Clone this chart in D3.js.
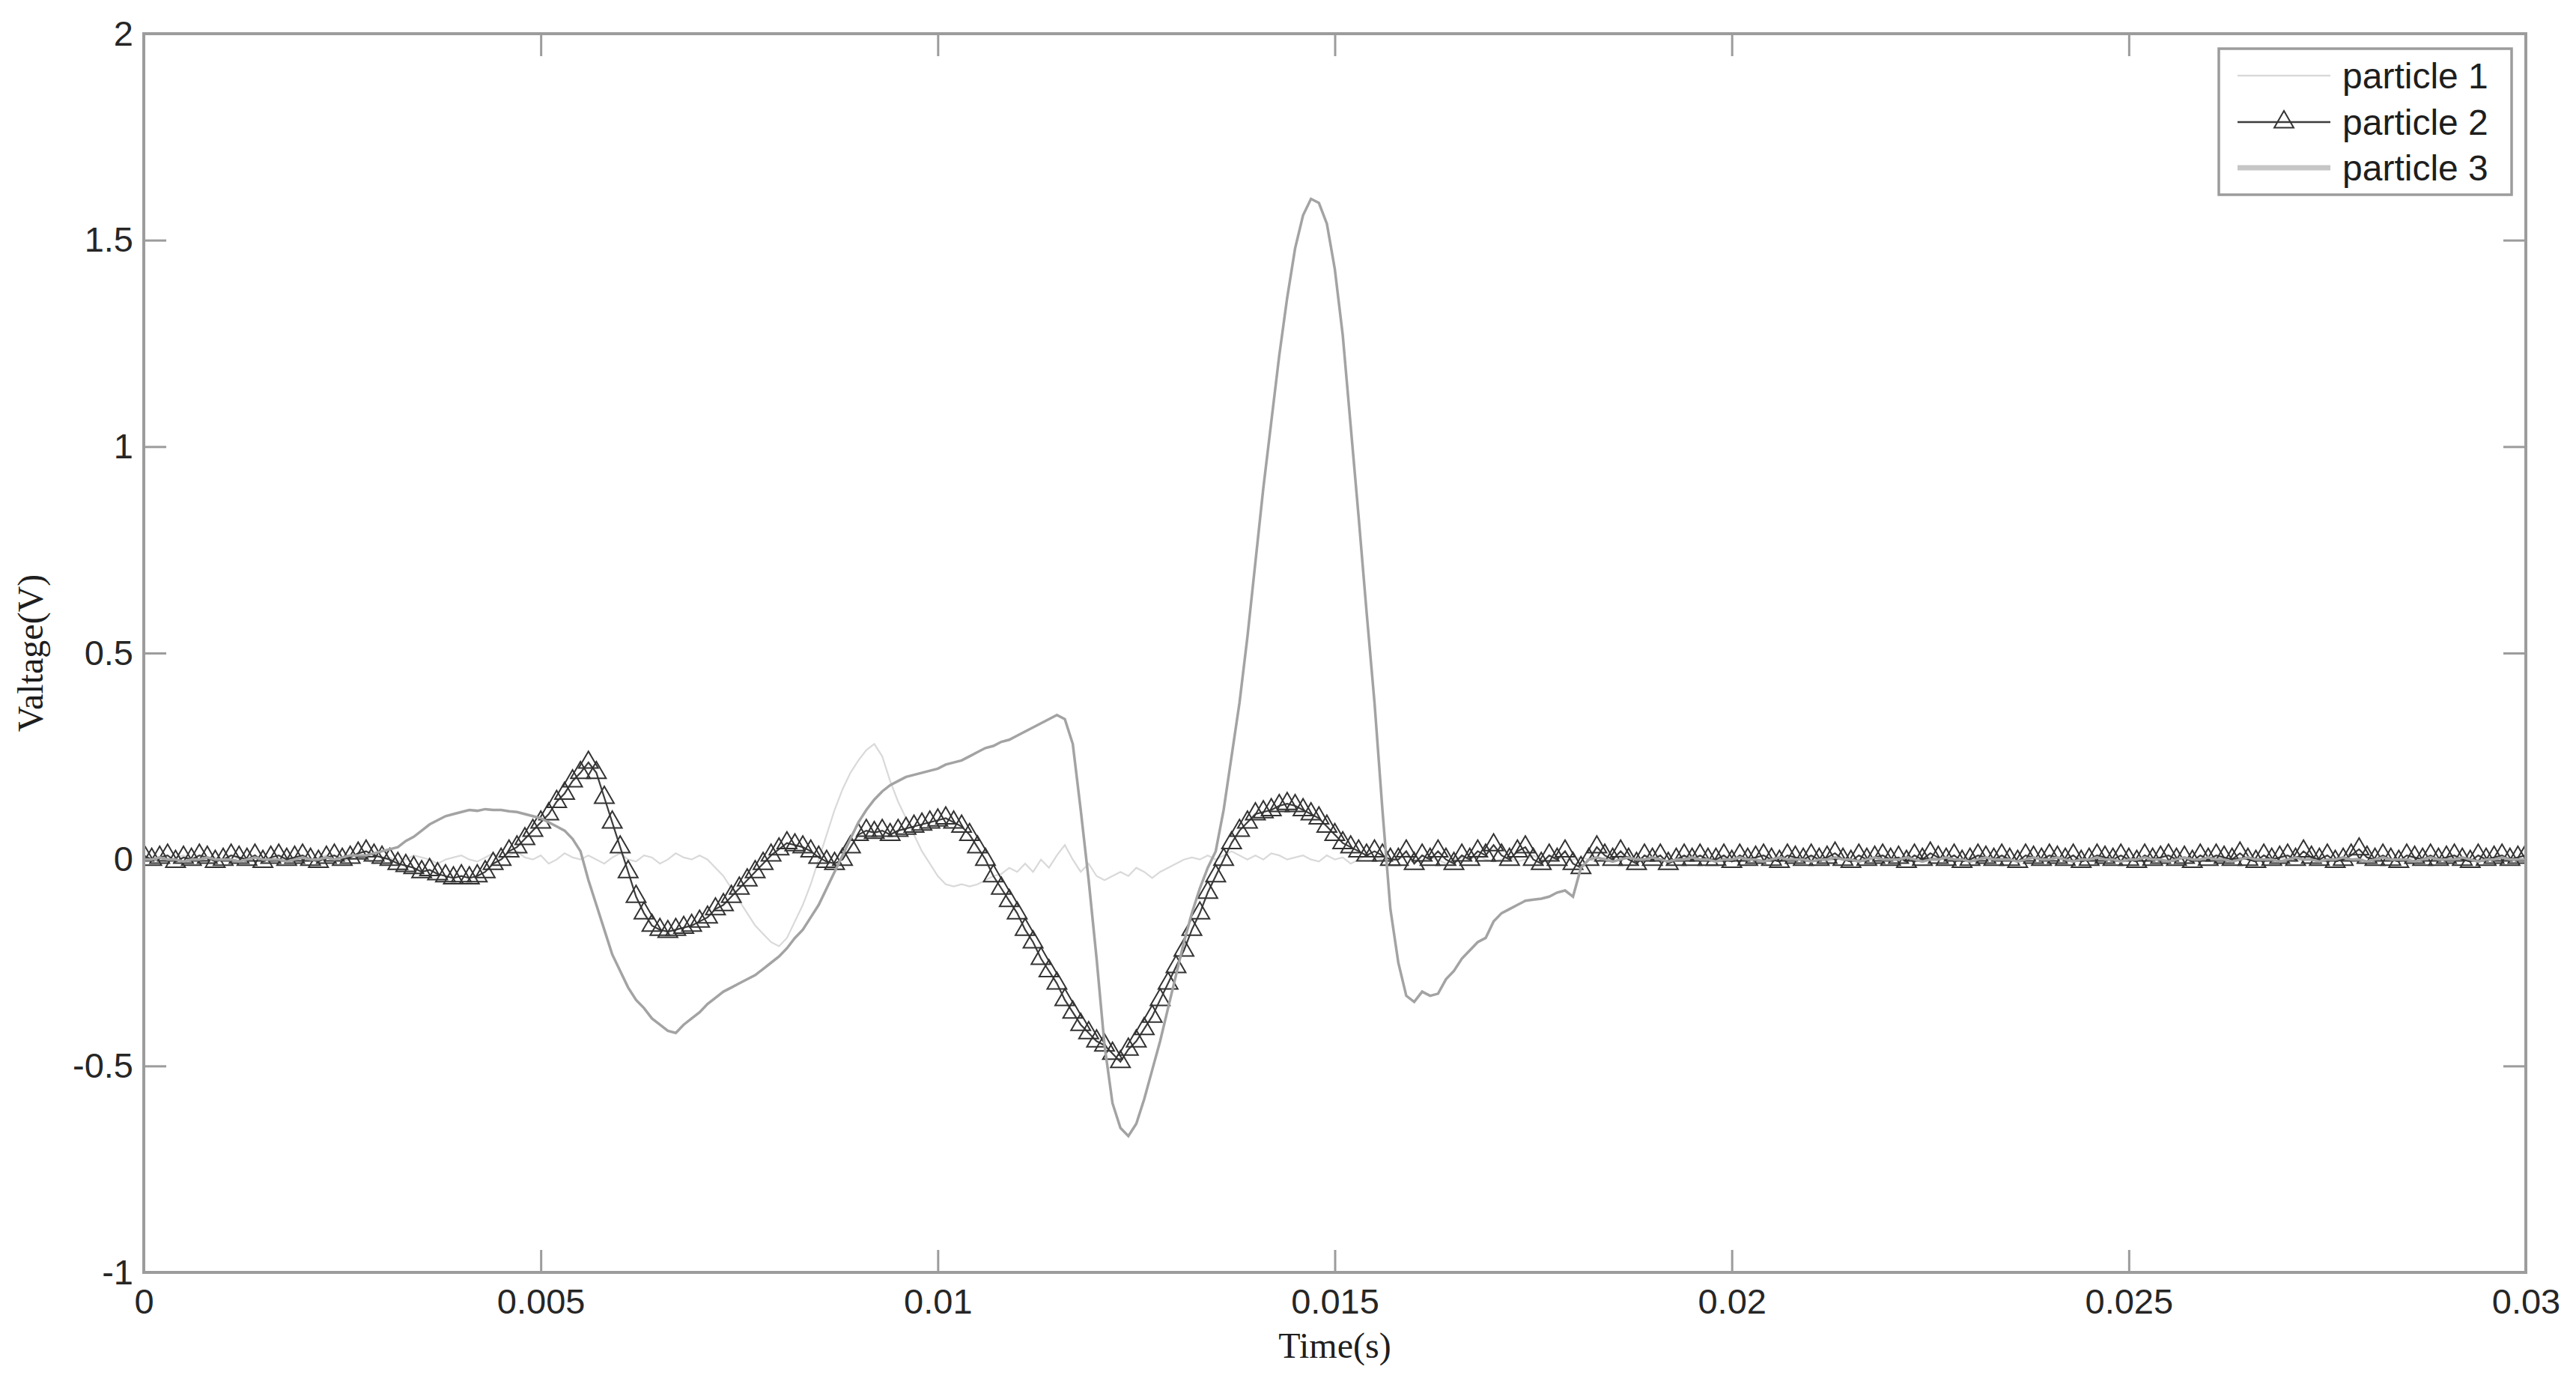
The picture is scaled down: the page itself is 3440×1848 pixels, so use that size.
<!DOCTYPE html>
<html><head><meta charset="utf-8">
<script src="https://cdn.jsdelivr.net/npm/d3@7"></script>
<style>body{margin:0;background:#fff;} svg{display:block}</style>
</head><body>
<svg id="c" width="3440" height="1848"></svg>
<script>
const sampleStep = 0.0001;
const xTicks = [0,0.005,0.01,0.015,0.02,0.025,0.03];
const xTickLabels = ["0","0.005","0.01","0.015","0.02","0.025","0.03"];
const yTicks = [-1,-0.5,0,0.5,1,1.5,2];
const yTickLabels = ["-1","-0.5","0","0.5","1","1.5","2"];
const seriesNames = ["particle 1","particle 2","particle 3"];
const xLabel = "Time(s)";
const yLabel = "Valtage(V)";

const particle1 = [
0.00,0.005,0.00,-0.005,0.005,0.01,0.00,-0.005,0.00,0.005,
0.00,-0.005,0.005,0.00,0.01,0.00,-0.005,0.00,0.005,0.00,
-0.005,0.00,0.005,0.01,0.00,-0.005,0.00,0.005,0.00,-0.01,
0.00,0.005,-0.005,0.00,0.01,0.005,0.00,-0.01,0.00,0.005,
0.01,0.00,-0.005,0.005,0.015,0.00,0.01,0.02,0.005,0.00,
0.01,-0.01,0.00,0.015,0.005,0.00,0.01,0.00,-0.01,0.005,
0.015,0.00,-0.005,0.01,0.005,-0.01,0.00,0.015,0.005,0.00,
0.01,0.00,-0.02,-0.04,-0.07,-0.10,-0.13,-0.16,-0.18,-0.20,
-0.21,-0.19,-0.15,-0.11,-0.06,0.00,0.06,0.12,0.17,0.21,
0.24,0.265,0.28,0.25,0.19,0.14,0.10,0.06,0.02,-0.01,
-0.04,-0.06,-0.065,-0.06,-0.065,-0.06,-0.05,-0.04,-0.035,-0.02,
-0.03,-0.01,-0.03,0.00,-0.02,0.01,0.035,0.00,-0.03,-0.01,
-0.04,-0.05,-0.04,-0.03,-0.04,-0.02,-0.03,-0.045,-0.03,-0.02,
-0.01,0.00,0.005,0.00,0.01,0.00,0.01,0.02,0.01,0.00,
0.01,0.00,0.015,0.01,0.00,0.005,0.01,0.00,-0.005,0.01,
0.00,0.005,-0.01,0.00,0.01,0.005,0.00,-0.005,0.00,0.01,
0.00,-0.005,0.005,0.00,-0.01,0.00,0.005,0.00,0.01,0.00,
-0.005,0.00,0.005,-0.005,0.00,0.01,0.00,-0.005,0.005,0.00,
0.00,0.005,0.00,-0.005,0.005,0.00,0.01,0.00,-0.005,0.00,
0.005,0.00,-0.005,0.00,0.005,0.01,0.00,-0.005,0.00,0.005,
0.00,-0.005,0.005,0.00,0.00,0.005,-0.005,0.00,0.005,0.00,
0.005,0.00,-0.005,0.00,0.005,0.00,0.00,-0.005,0.005,0.00,
0.00,0.005,0.00,-0.005,0.00,0.005,0.00,0.005,-0.005,0.00,
0.005,0.00,0.00,-0.005,0.005,0.00,-0.005,0.00,0.005,0.00,
0.00,0.005,-0.005,0.00,0.005,0.00,0.00,0.005,-0.005,0.00,
0.005,0.00,-0.005,0.005,0.00,0.00,0.005,0.00,-0.005,0.00,
0.00,0.005,0.00,-0.005,0.005,0.00,0.005,-0.005,0.00,0.005,
0.00,-0.005,0.00,0.005,0.00,-0.005,0.005,0.00,0.00,0.005,
-0.005,0.00,0.005,0.00,-0.005,0.00,0.005,0.00,0.005,-0.005,
0.00,0.005,0.00,-0.005,0.00,0.005,0.00,-0.005,0.005,0.00,
0.00];

const particle2 = [
0.01,0.00,0.005,0.01,-0.005,0.005,0.00,0.01,0.005,-0.005,
0.00,0.01,0.005,0.00,0.01,-0.005,0.005,0.01,0.00,0.005,
0.01,0.00,-0.005,0.005,0.01,0.00,0.005,0.015,0.02,0.01,
0.005,0.00,-0.01,-0.015,-0.02,-0.03,-0.025,-0.035,-0.04,-0.045,
-0.04,-0.045,-0.04,-0.03,-0.01,0.00,0.02,0.03,0.05,0.07,
0.09,0.11,0.14,0.16,0.19,0.21,0.235,0.21,0.15,0.09,
0.03,-0.03,-0.09,-0.13,-0.16,-0.17,-0.175,-0.17,-0.165,-0.16,
-0.15,-0.14,-0.12,-0.11,-0.09,-0.07,-0.05,-0.03,-0.01,0.01,
0.025,0.04,0.035,0.03,0.02,0.005,-0.005,-0.01,0.00,0.03,
0.06,0.07,0.065,0.07,0.06,0.07,0.075,0.08,0.085,0.09,
0.095,0.10,0.09,0.08,0.06,0.03,0.00,-0.04,-0.07,-0.10,
-0.13,-0.17,-0.20,-0.24,-0.27,-0.30,-0.34,-0.37,-0.40,-0.42,
-0.44,-0.45,-0.47,-0.49,-0.46,-0.44,-0.41,-0.38,-0.34,-0.30,
-0.26,-0.22,-0.17,-0.13,-0.08,-0.04,0.00,0.04,0.07,0.09,
0.11,0.115,0.12,0.13,0.135,0.13,0.12,0.11,0.10,0.08,
0.06,0.04,0.03,0.02,0.01,0.02,0.01,0.00,0.00,0.02,
-0.01,0.01,0.00,0.02,0.00,-0.01,0.01,0.00,0.02,0.01,
0.035,0.01,0.00,0.02,0.03,0.00,-0.01,0.01,0.00,0.02,
-0.01,-0.02,0.00,0.03,0.01,0.00,0.02,0.00,-0.01,0.01,
0.00,0.01,-0.01,0.00,0.01,0.00,0.01,0.00,0.00,0.01,
-0.005,0.01,0.00,0.005,0.01,0.00,-0.005,0.01,0.005,0.00,
0.01,0.00,0.005,0.015,0.00,-0.005,0.01,0.00,0.005,0.01,
0.00,0.005,-0.005,0.01,0.00,0.015,0.005,0.00,0.01,-0.005,
0.00,0.01,0.005,0.00,0.01,0.00,-0.005,0.01,0.005,0.00,
0.01,0.005,0.00,0.01,-0.005,0.00,0.01,0.005,0.00,0.01,
0.00,-0.005,0.01,0.00,0.005,0.01,0.00,0.005,-0.005,0.01,
0.00,0.01,0.005,0.00,0.015,0.00,-0.005,0.01,0.00,0.005,
0.01,0.00,0.02,0.005,0.00,0.01,-0.005,0.00,0.01,0.025,
0.005,0.00,0.01,0.00,-0.005,0.01,0.005,0.00,0.01,0.00,
0.005,0.01,0.00,-0.005,0.01,0.00,0.005,0.01,0.00,0.005,
0.01];

const particle3 = [
0.00,0.00,0.005,0.00,0.00,-0.005,0.00,0.00,0.005,0.00,
0.00,0.00,-0.005,0.00,0.005,0.00,0.00,0.00,-0.005,0.00,
0.005,0.00,0.00,0.005,0.00,0.005,0.01,0.01,0.01,0.015,
0.02,0.025,0.03,0.045,0.055,0.07,0.085,0.095,0.105,0.11,
0.115,0.12,0.118,0.122,0.12,0.12,0.117,0.115,0.11,0.105,
0.10,0.09,0.08,0.07,0.05,0.02,-0.05,-0.11,-0.17,-0.23,
-0.27,-0.31,-0.34,-0.36,-0.385,-0.40,-0.415,-0.42,-0.40,-0.385,
-0.37,-0.35,-0.335,-0.32,-0.31,-0.30,-0.29,-0.28,-0.265,-0.25,
-0.235,-0.215,-0.19,-0.17,-0.14,-0.11,-0.07,-0.03,0.01,0.05,
0.09,0.12,0.145,0.165,0.18,0.19,0.20,0.205,0.21,0.215,
0.22,0.23,0.235,0.24,0.25,0.26,0.27,0.275,0.285,0.29,
0.30,0.31,0.32,0.33,0.34,0.35,0.34,0.28,0.12,-0.05,
-0.24,-0.45,-0.59,-0.65,-0.67,-0.64,-0.58,-0.51,-0.44,-0.36,
-0.28,-0.20,-0.13,-0.07,-0.02,0.02,0.12,0.25,0.38,0.54,
0.72,0.90,1.06,1.22,1.36,1.48,1.56,1.60,1.59,1.54,
1.43,1.27,1.05,0.83,0.60,0.38,0.12,-0.12,-0.25,-0.33,
-0.345,-0.32,-0.33,-0.325,-0.29,-0.27,-0.24,-0.22,-0.20,-0.19,
-0.15,-0.13,-0.12,-0.11,-0.10,-0.097,-0.095,-0.09,-0.08,-0.075,
-0.09,-0.02,0.00,0.005,0.00,-0.005,0.00,0.005,0.00,0.00,
0.005,0.00,-0.005,0.00,0.00,0.005,0.00,0.00,-0.005,0.00,
0.00,0.005,0.00,0.00,-0.005,0.00,0.005,0.00,0.00,0.00,
-0.005,0.00,0.00,0.005,0.00,0.00,-0.005,0.00,0.005,0.00,
0.00,0.00,0.005,0.00,-0.005,0.00,0.00,0.005,0.00,0.00,
-0.005,0.00,0.005,0.00,0.00,0.00,-0.005,0.00,0.005,0.00,
0.00,0.005,0.00,-0.005,0.00,0.00,0.005,0.00,0.00,-0.005,
0.00,0.00,0.005,0.00,0.00,-0.005,0.00,0.005,0.00,0.00,
0.005,0.00,0.00,-0.005,0.00,0.005,0.00,0.00,0.00,-0.005,
0.00,0.005,0.00,0.00,-0.005,0.00,0.00,0.005,0.00,0.00,
-0.005,0.00,0.005,0.00,0.00,0.00,-0.005,0.00,0.005,0.00,
0.00,0.00,0.005,0.00,-0.005,0.00,0.00,0.005,0.00,0.00,
0.00];

const svg = d3.select("#c");
const L = 192, R = 3373, T = 45, B = 1699;
const x = d3.scaleLinear().domain([0, 0.03]).range([L, R]);
const y = d3.scaleLinear().domain([-1, 2]).range([B, T]);
const times = particle1.map((_, i) => +(i * sampleStep).toFixed(4));

const axColor = "#9c9c9c";
const tickFont = "'Liberation Sans', Arial, sans-serif";
const serifFont = "'Liberation Serif', 'Times New Roman', serif";

svg.append("rect").attr("width", 3440).attr("height", 1848).attr("fill", "#fff");

svg.append("defs").append("clipPath").attr("id", "clip")
  .append("rect").attr("x", L).attr("y", T).attr("width", R - L).attr("height", B - T);

function styleAxis(g) {
  g.select(".domain").remove();
  g.selectAll(".tick line").attr("stroke", axColor).attr("stroke-width", 3);
  g.selectAll(".tick text").attr("fill", "#262626").style("font-family", tickFont).style("font-size", "47px");
}

svg.append("g").attr("transform", `translate(0,${B})`)
  .call(d3.axisBottom(x).tickValues(xTicks).tickFormat((d, i) => xTickLabels[i]).tickSizeInner(-30).tickSizeOuter(0).tickPadding(22))
  .call(styleAxis);
svg.append("g").attr("transform", `translate(0,${T})`)
  .call(d3.axisTop(x).tickValues(xTicks).tickFormat(() => "").tickSizeInner(-30).tickSizeOuter(0))
  .call(styleAxis);
svg.append("g").attr("transform", `translate(${L},0)`)
  .call(d3.axisLeft(y).tickValues(yTicks).tickFormat(d => yTickLabels[yTicks.indexOf(d)]).tickSizeInner(-30).tickSizeOuter(0).tickPadding(14))
  .call(styleAxis);
svg.append("g").attr("transform", `translate(${R},0)`)
  .call(d3.axisRight(y).tickValues(yTicks).tickFormat(() => "").tickSizeInner(-30).tickSizeOuter(0))
  .call(styleAxis);

const plot = svg.append("g").attr("clip-path", "url(#clip)");
const line = d3.line().x((d, i) => x(times[i])).y(d => y(d));

const styles = [
  { color: "#d9d9d9", width: 2.2 },
  { color: "#3c3c3c", width: 2.2 },
  { color: "#a3a3a3", width: 3.5 }
];
const triSym = d3.symbol().type(d3.symbolTriangle).size(290);

plot.append("path").datum(particle1).attr("d", line)
  .attr("fill", "none").attr("stroke", styles[0].color).attr("stroke-width", styles[0].width);
plot.append("path").datum(particle2).attr("d", line)
  .attr("fill", "none").attr("stroke", styles[1].color).attr("stroke-width", styles[1].width);
plot.append("g").selectAll("path").data(particle2).join("path")
  .attr("d", triSym)
  .attr("transform", (d, i) => `translate(${x(times[i])},${y(d)})`)
  .attr("fill", "none").attr("stroke", "#333").attr("stroke-width", 2);
plot.append("path").datum(particle3).attr("d", line)
  .attr("fill", "none").attr("stroke", styles[2].color).attr("stroke-width", styles[2].width);

svg.append("rect").attr("x", L).attr("y", T).attr("width", R - L).attr("height", B - T)
  .attr("fill", "none").attr("stroke", axColor).attr("stroke-width", 4);

// Legend
const lg = svg.append("g");
lg.append("rect").attr("x", 2963).attr("y", 65).attr("width", 391).attr("height", 195)
  .attr("fill", "#fff").attr("stroke", axColor).attr("stroke-width", 3.5);
const rowY = [101, 163, 224];
seriesNames.forEach((name, k) => {
  lg.append("line").attr("x1", 2988).attr("x2", 3112).attr("y1", rowY[k]).attr("y2", rowY[k])
    .attr("stroke", k === 2 ? "#c6c6c6" : styles[k].color).attr("stroke-width", k === 2 ? 7 : styles[k].width + 0.5);
  if (k === 1) {
    lg.append("path").attr("d", triSym).attr("transform", `translate(3050,${rowY[k]})`)
      .attr("fill", "none").attr("stroke", "#333").attr("stroke-width", 2);
  }
  lg.append("text").attr("x", 3128).attr("y", rowY[k]).attr("dy", "0.35em")
    .style("font-family", tickFont).style("font-size", "48px").attr("fill", "#1e1e1e").text(name);
});

// Axis labels
svg.append("text").attr("x", (L + R) / 2).attr("y", 1813).attr("text-anchor", "middle")
  .style("font-family", serifFont).style("font-size", "48px").attr("fill", "#1e1e1e").text(xLabel);
svg.append("text").attr("transform", `translate(40,${(T + B) / 2}) rotate(-90)`).attr("text-anchor", "middle")
  .attr("dy", "0.35em")
  .style("font-family", serifFont).style("font-size", "48px").attr("fill", "#1e1e1e").text(yLabel);
</script>
</body></html>
